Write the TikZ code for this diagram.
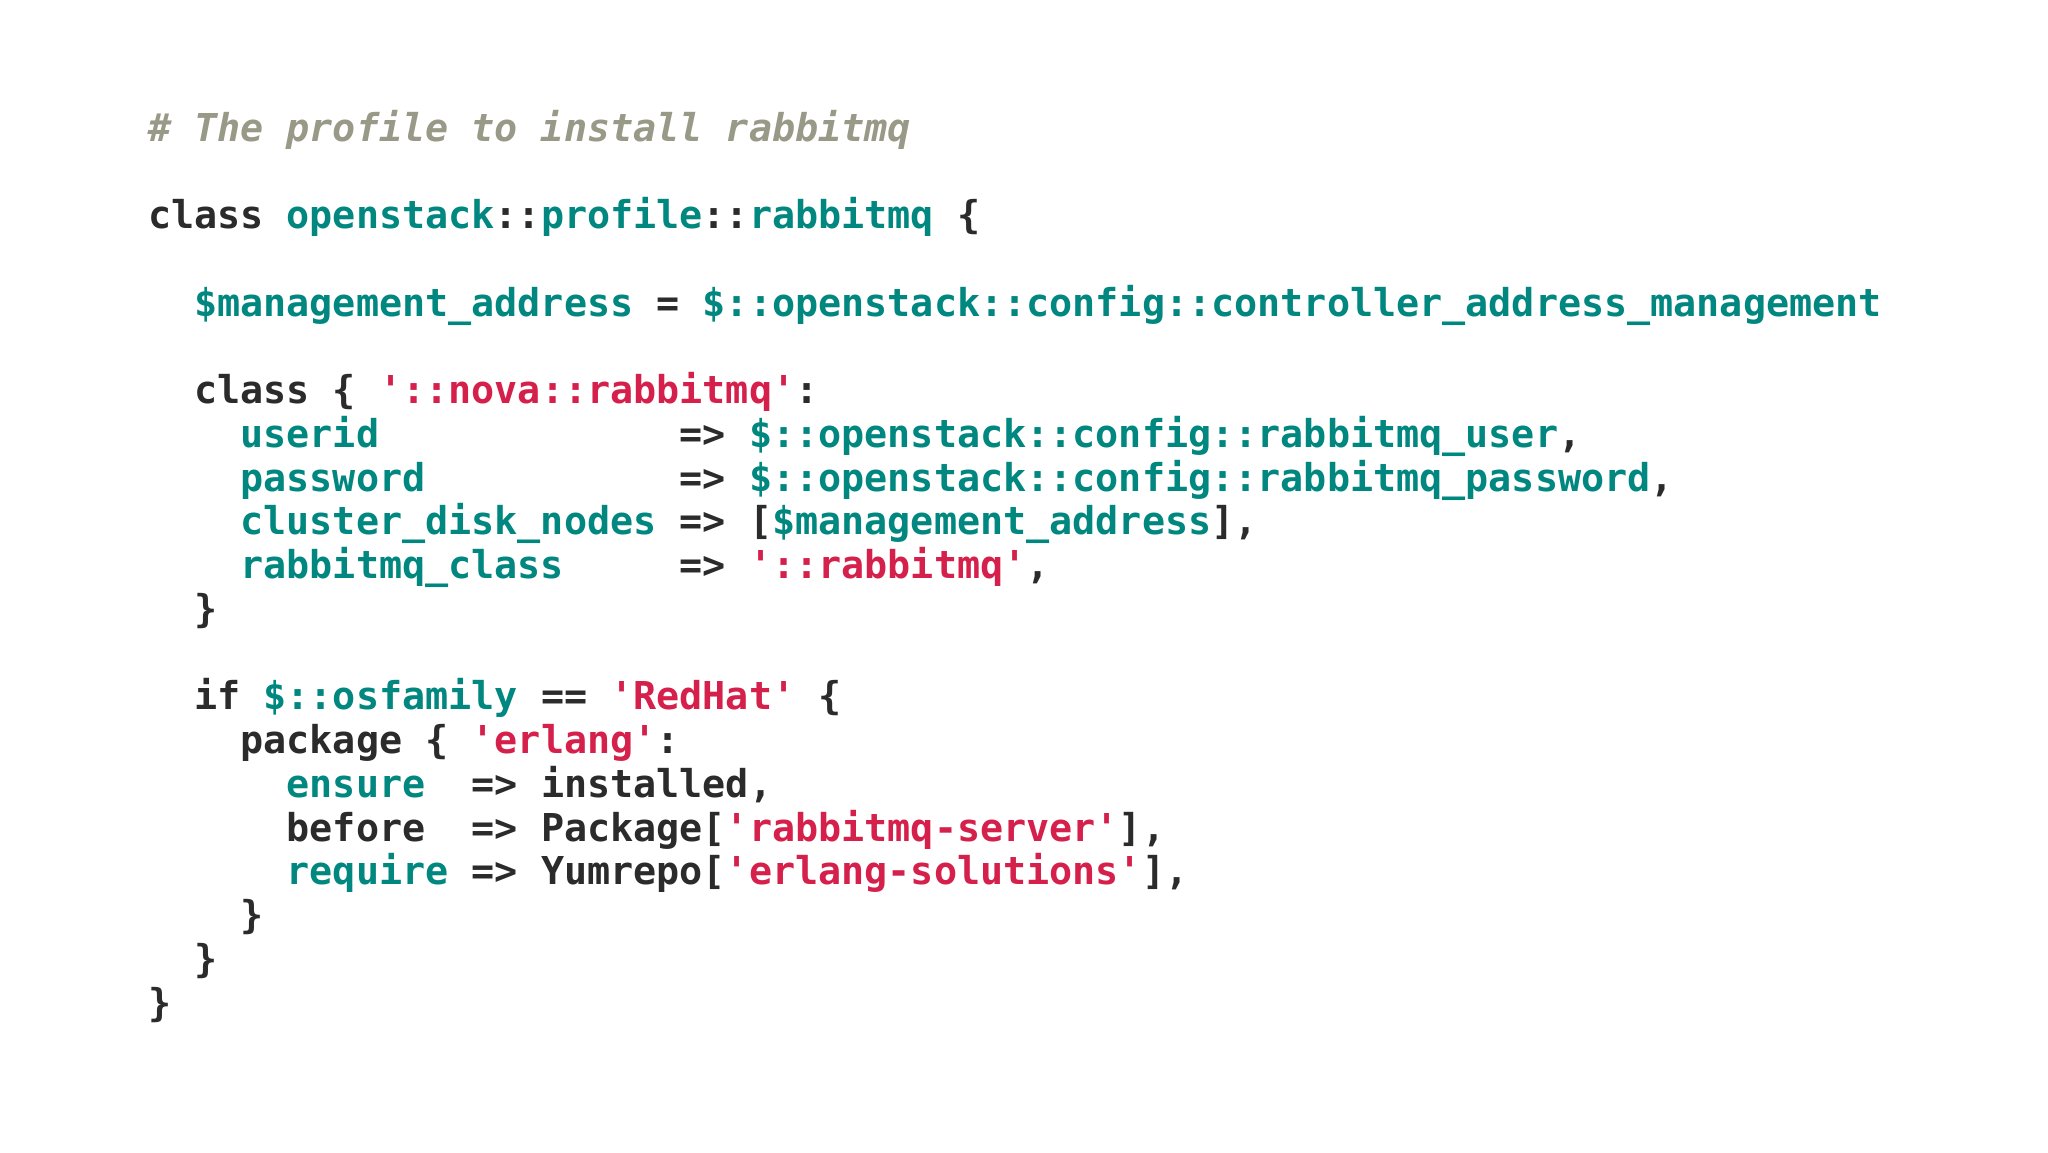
\documentclass[tikz,border=0pt]{standalone}
\usepackage{fontspec}
\setmonofont{DejaVu Sans Mono}
\definecolor{tl}{HTML}{00877F}
\definecolor{rd}{HTML}{D5204B}
\definecolor{dk}{HTML}{2B2B2B}
\definecolor{cm}{HTML}{999988}
\newcommand{\T}[1]{\textcolor{tl}{#1}}
\newcommand{\R}[1]{\textcolor{rd}{#1}}
\tikzset{codeline/.style={anchor=base west,inner sep=0pt,text=dk,font=\ttfamily\bfseries\fontsize{19.2}{22}\selectfont}}
\begin{document}
\begin{tikzpicture}[x=1pt,y=1pt]
\useasboundingbox[fill=white] (0,0) rectangle (1024,-576);
\def\L{73.8}
\def\B{70.5}
\def\S{21.88}
\node[codeline] (l0) at (\L,-\B) {\textcolor{cm}{\itshape \# The profile to install rabbitmq}};
\node[codeline] (l2) at (\L,-\B-2*\S) {class \T{openstack}::\T{profile}::\T{rabbitmq} \{};
\node[codeline] (l4) at (\L,-\B-4*\S) {~~\T{\$management\_address} = \T{\$::openstack::config::controller\_address\_management}};
\node[codeline] (l6) at (\L,-\B-6*\S) {~~class \{ \R{'::nova::rabbitmq'}:};
\node[codeline] (l7) at (\L,-\B-7*\S) {~~~~\T{userid}~~~~~~~~~~~~~=> \T{\$::openstack::config::rabbitmq\_user},};
\node[codeline] (l8) at (\L,-\B-8*\S) {~~~~\T{password}~~~~~~~~~~~=> \T{\$::openstack::config::rabbitmq\_password},};
\node[codeline] (l9) at (\L,-\B-9*\S) {~~~~\T{cluster\_disk\_nodes} => [\T{\$management\_address}],};
\node[codeline] (l10) at (\L,-\B-10*\S) {~~~~\T{rabbitmq\_class}~~~~~=> \R{'::rabbitmq'},};
\node[codeline] (l11) at (\L,-\B-11*\S) {~~\}};
\node[codeline] (l13) at (\L,-\B-13*\S) {~~if \T{\$::osfamily} == \R{'RedHat'} \{};
\node[codeline] (l14) at (\L,-\B-14*\S) {~~~~package \{ \R{'erlang'}:};
\node[codeline] (l15) at (\L,-\B-15*\S) {~~~~~~\T{ensure}~~=> installed,};
\node[codeline] (l16) at (\L,-\B-16*\S) {~~~~~~before~~=> Package[\R{'rabbitmq-server'}],};
\node[codeline] (l17) at (\L,-\B-17*\S) {~~~~~~\T{require} => Yumrepo[\R{'erlang-solutions'}],};
\node[codeline] (l18) at (\L,-\B-18*\S) {~~~~\}};
\node[codeline] (l19) at (\L,-\B-19*\S) {~~\}};
\node[codeline] (l20) at (\L,-\B-20*\S) {\}};
\end{tikzpicture}
\end{document}
